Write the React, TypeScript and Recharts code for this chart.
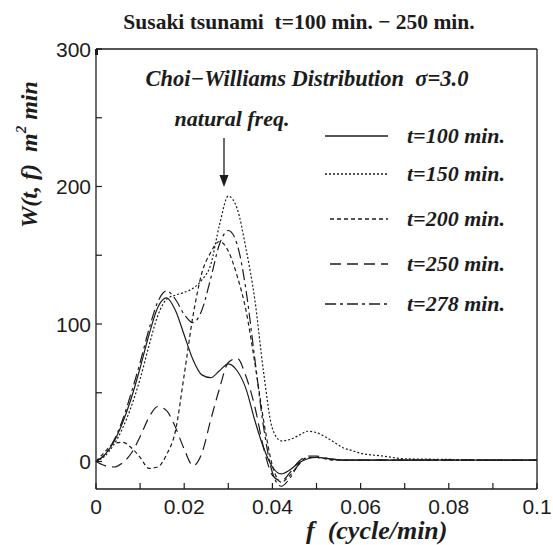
import { Line, LineChart, XAxis, YAxis } from "recharts";

// frequency grid (cycle/min)
const freq = [
  0, 0.002, 0.004, 0.006, 0.008, 0.01, 0.012, 0.014, 0.016, 0.018, 0.02, 0.022, 0.024,
  0.026, 0.028, 0.03, 0.032, 0.034, 0.036, 0.038, 0.04, 0.042, 0.044, 0.046, 0.048, 0.05,
  0.052, 0.054, 0.056, 0.058, 0.06, 0.065, 0.07, 0.08, 0.09, 0.1,
];

// W(t,f), one array per time slice
const w100 = [
  0, 5, 14, 28, 46, 68, 92, 112, 119, 110, 92, 74, 63, 61, 66, 71, 66, 53, 30, 10, -4, -9, -6,
  -1, 2, 3, 2.5, 1.5, 1, 1, 1, 1, 1, 1, 1, 1,
];
const w150 = [
  0, 4, 12, 24, 40, 60, 84, 106, 118, 121, 123, 126, 132, 143, 172, 193, 184, 155, 118, 65, 24,
  15, 16, 19, 22, 21, 18, 14, 10, 8, 6, 4, 2, 1.5, 1, 1,
];
const w200 = [
  0, 7, 13, 14, 10, 3, -5, -4, 5, 22, 63, 106, 137, 152, 160, 153, 135, 110, 72, 30, -3, -15,
  -10, -2, 3, 3, 2, 1, 1, 1, 1, 1, 1, 1, 1, 1,
];
const w250 = [
  0, -3, -4, -1, 6, 18, 32, 40, 37, 25, 9, -3, 6, 30, 53, 72, 75, 62, 40, 10, -10, -14, -8, 0,
  4, 4, 2.5, 1.5, 1, 1, 1, 1, 1, 1, 1, 1,
];
const w278 = [
  0, 5, 15, 30, 50, 72, 96, 116, 124, 118, 107, 101, 110, 133, 158, 168, 158, 125, 75, 25, -8,
  -18, -12, -2, 3, 3, 2, 1.5, 1, 1, 1, 1, 1, 1, 1, 1,
];

const seriesKeys = ["w100", "w150", "w200", "w250", "w278"];
const seriesNames = ["t=100 min.", "t=150 min.", "t=200 min.", "t=250 min.", "t=278 min."];
const seriesDash = [undefined, "2 2", "4 3", "11 6", "11 4 3 4"];

const xTicks = [0, 0.01, 0.02, 0.03, 0.04, 0.05, 0.06, 0.07, 0.08, 0.09, 0.1];
const xTickLabels = ["0", "", "0.02", "", "0.04", "", "0.06", "", "0.08", "", "0.1"];
const yTicks = [0, 50, 100, 150, 200, 250, 300];
const yTickLabels = ["0", "", "100", "", "200", "", "300"];

const data = freq.map((f, i) => ({
  f,
  w100: w100[i],
  w150: w150[i],
  w200: w200[i],
  w250: w250[i],
  w278: w278[i],
}));

const ink = "#1c1c1c";
const sans = "'Liberation Sans', Arial, sans-serif";
const serif = "'Liberation Serif', 'Times New Roman', serif";

function labelFor(ticks: number[], labels: string[], v: number) {
  const i = ticks.findIndex((t) => Math.abs(t - v) < 1e-9);
  return i >= 0 ? labels[i] : "";
}

function BottomTick({ x, y, payload }: any) {
  return (
    <g>
      <line x1={x} y1={y} x2={x} y2={y - 6} stroke={ink} strokeWidth={1.2} />
      <text x={x} y={y + 25} textAnchor="middle" fontFamily={sans} fontSize={21} fill={ink}>
        {labelFor(xTicks, xTickLabels, payload.value)}
      </text>
    </g>
  );
}

function TopTick({ x, y }: any) {
  return <line x1={x} y1={y} x2={x} y2={y + 6} stroke={ink} strokeWidth={1.2} />;
}

function LeftTick({ x, y, payload }: any) {
  return (
    <g>
      <line x1={x} y1={y} x2={x + 6} y2={y} stroke={ink} strokeWidth={1.2} />
      <text x={x - 5} y={y + 7.5} textAnchor="end" fontFamily={sans} fontSize={21} fill={ink}>
        {labelFor(yTicks, yTickLabels, payload.value)}
      </text>
    </g>
  );
}

function RightTick({ x, y }: any) {
  return <line x1={x} y1={y} x2={x - 6} y2={y} stroke={ink} strokeWidth={1.2} />;
}

const legendRowY = [136, 174, 219, 264, 304];

export default function App() {
  return (
    <div style={{ position: "absolute", left: 0, top: 0, width: 553, height: 545, background: "#fff" }}>
      <LineChart width={553} height={545} data={data} margin={{ top: 48, right: 15, bottom: 26, left: 56 }}>
        <XAxis
          dataKey="f"
          type="number"
          domain={[0, 0.1]}
          ticks={xTicks}
          interval={0}
          tickLine={false}
          tickSize={0}
          tickMargin={0}
          tick={BottomTick}
          height={30}
          axisLine={{ stroke: ink, strokeWidth: 1.3 }}
        />
        <XAxis
          xAxisId="top"
          orientation="top"
          type="number"
          domain={[0, 0.1]}
          ticks={xTicks}
          interval={0}
          tickLine={false}
          tickSize={0}
          tickMargin={0}
          tick={TopTick}
          height={1}
          axisLine={{ stroke: ink, strokeWidth: 1.3 }}
        />
        <YAxis
          type="number"
          domain={[-20, 300]}
          ticks={yTicks}
          interval={0}
          tickLine={false}
          tickSize={0}
          tickMargin={0}
          tick={LeftTick}
          width={40}
          axisLine={{ stroke: ink, strokeWidth: 1.3 }}
        />
        <YAxis
          yAxisId="right"
          orientation="right"
          type="number"
          domain={[-20, 300]}
          ticks={yTicks}
          interval={0}
          tickLine={false}
          tickSize={0}
          tickMargin={0}
          tick={RightTick}
          width={1}
          axisLine={{ stroke: ink, strokeWidth: 1.3 }}
        />
        {seriesKeys.map((k, i) => (
          <Line
            key={k}
            dataKey={k}
            name={seriesNames[i]}
            type="monotone"
            stroke={ink}
            strokeWidth={1.2}
            strokeDasharray={seriesDash[i]}
            dot={false}
            activeDot={false}
            isAnimationActive={false}
          />
        ))}
      </LineChart>

      <svg
        width={553}
        height={545}
        style={{ position: "absolute", left: 0, top: 0, pointerEvents: "none" }}
      >
        <text x={299} y={29} textAnchor="middle" fontFamily={serif} fontWeight="bold" fontSize={21.5} fill={ink} style={{ whiteSpace: "pre" }}>
          {"Susaki tsunami  t=100 min. \u2212 250 min."}
        </text>
        <text x={307} y={86} textAnchor="middle" fontFamily={serif} fontWeight="bold" fontStyle="italic" fontSize={22.5} fill={ink} style={{ whiteSpace: "pre" }}>
          {"Choi\u2212Williams Distribution  \u03c3=3.0"}
        </text>
        <text x={232} y={126} textAnchor="middle" fontFamily={serif} fontWeight="bold" fontStyle="italic" fontSize={22} fill={ink}>
          natural freq.
        </text>
        <line x1={224} y1={138} x2={224} y2={176} stroke={ink} strokeWidth={1.3} />
        <path d="M219.5,175 L228.5,175 L224,187 Z" fill={ink} />

        {seriesNames.map((name, i) => (
          <g key={name}>
            <line
              x1={i === 2 || i === 3 ? 330 : 325}
              y1={legendRowY[i]}
              x2={388}
              y2={legendRowY[i]}
              stroke={ink}
              strokeWidth={1.3}
              strokeDasharray={seriesDash[i]}
            />
            <text x={407} y={legendRowY[i] + 7} fontFamily={serif} fontWeight="bold" fontStyle="italic" fontSize={22} fill={ink}>
              {name}
            </text>
          </g>
        ))}

        <text
          transform="translate(37,228) rotate(-90)"
          fontFamily={serif}
          fontWeight="bold"
          fontStyle="italic"
          fontSize={24}
          fill={ink}
          style={{ whiteSpace: "pre" }}
        >
          {"W(t, f)  m"}
          <tspan fontSize={15} dy={-11}>2</tspan>
          <tspan dy={11}>{" min"}</tspan>
        </text>
        <text x={306} y={539} fontFamily={serif} fontWeight="bold" fontStyle="italic" fontSize={26} fill={ink} style={{ whiteSpace: "pre" }}>
          {"f  (cycle/min)"}
        </text>
      </svg>
    </div>
  );
}
